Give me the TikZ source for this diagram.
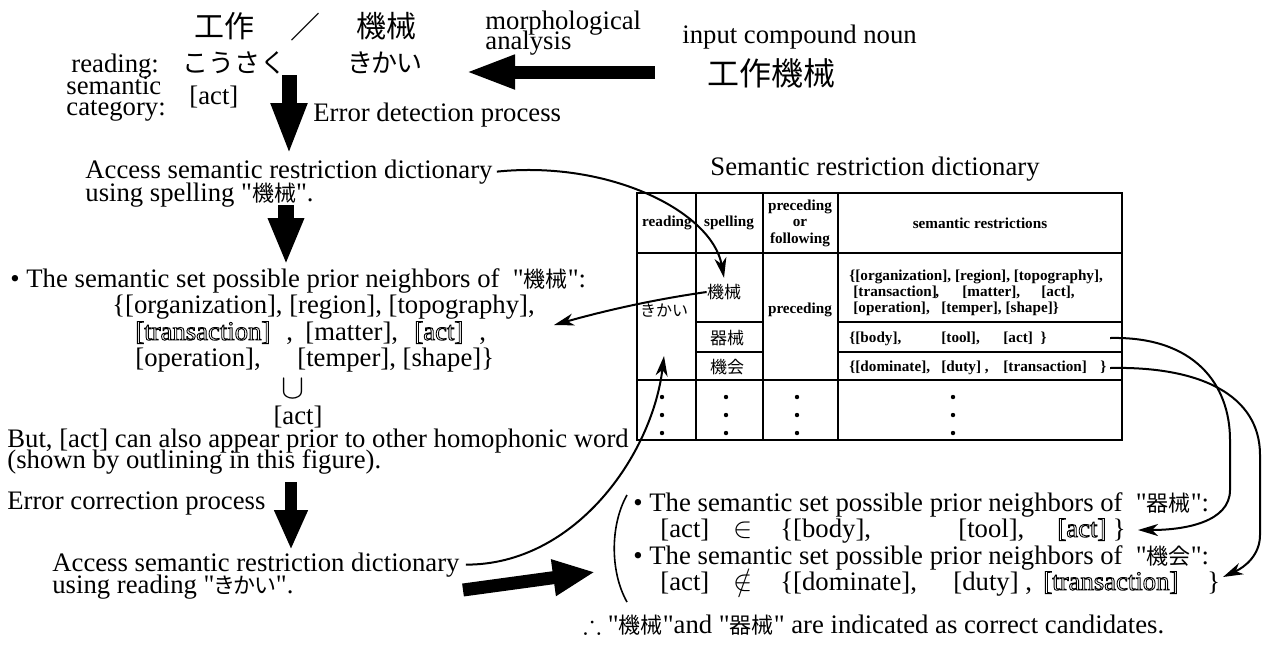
\documentclass[tikz,border=0pt]{standalone}
\usepackage{amssymb}
\usepackage{fontspec}
\setmainfont{Liberation Serif}[Ligatures=TeXOff]
\newfontfamily\jpfont{Noto Sans CJK JP}[RawFeature=+palt]
\newfontfamily\jpwide{Noto Sans CJK JP}
\newcommand\jpin[1]{{\jpfont\fontsize{11}{11}\selectfont #1}}
\newcommand\outl[1]{\special{pdf:literal direct 1 Tr 0.45 w}#1\special{pdf:literal direct 0 Tr}}
\usetikzlibrary{positioning, arrows.meta}

\tikzset{
  txt/.style={inner sep=0pt, anchor=base west, font=\fontsize{13.35}{14}\selectfont},
  tab/.style={inner sep=0pt, anchor=base west, font=\fontsize{7.6}{8.2}\selectfont\bfseries},
  head/.style={inner sep=0pt, align=center, font=\fontsize{7.6}{8.2}\selectfont\bfseries},
  kanji/.style={inner sep=0pt, font=\jpwide\fontsize{#1}{#1}\selectfont},
  kana/.style={inner sep=0pt, font=\jpfont\fontsize{#1}{#1}\selectfont},
  bigarrow/.style n args={3}{line width=#1, -{Triangle[length=#2,width=#3]}},
  lookup/.style={line width=1pt, -{Stealth[length=10pt,width=6pt,inset=3pt]}},
  grid/.style={line width=0.9pt},
}

\begin{document}
\begin{tikzpicture}[x=0.5pt, y=-0.5pt]
\fill[white] (0,0) rectangle (1273,645);
% morphological analysis
\node[kanji=15pt] (wA) at (224,26) {工作};
\node[kanji=15pt] (slash) at (305,27) {／};
\node[kanji=15pt] (wB) at (386,26) {機械};
\node[txt] (morph1) at (485,29) {morphological};
\node[txt] (morph2) at (485,49) {analysis};
\node[txt] (inp) at (682,43) {input compound noun};
\node[kanji=16pt] (cnoun) at (771,73) {工作機械};
\node[txt] (rdlab) at (71,72) {reading:};
\node[kanji=13pt] (rdA) at (234,63) {こうさく};
\node[kana=13pt] (rdB) at (385,63) {きかい};
\node[txt] (sem1) at (66,94) {semantic};
\node[txt] (sem2) at (66,115) {category:};
\node[txt] (cat) at (189,104) {[act]};
\node[txt] (detect) at (313,121) {Error detection process};
\coordinate (h0) at (655,72);
\coordinate (h1) at (465,72);
\draw[bigarrow={6.5pt}{25pt}{15.5pt}] (h0) -- (h1);
\coordinate (d1s) at (289,75);
\coordinate (d1e) at (289,155);
\draw[bigarrow={7.5pt}{26pt}{16.5pt}] (d1s) -- (d1e);

% error detection
\node[txt] (acc1) at (85,178) {Access semantic restriction dictionary};
\node[txt] (acc1b) at (85,201) {using spelling "\jpin{機械}".};
\coordinate (d2s) at (286,205);
\coordinate (d2e) at (286,265);
\draw[bigarrow={8pt}{23.5pt}{16.5pt}] (d2s) -- (d2e);
\node[txt] (set0) at (10,287) {\textbullet\ The semantic set possible prior neighbors of~~"\jpin{機械}":};
\node[txt] (set1) at (112,313) {\{[organization], [region], [topography],};
\node[txt] (set2a) at (135,340) {\outl{[transaction]}};
\node[txt] (set2b) at (286,340) {,};
\node[txt] (set2c) at (305,340) {[matter],};
\node[txt] (set2d) at (414,340) {\outl{[act]}};
\node[txt] (set2e) at (479,340) {,};
\node[txt] (set3a) at (135,366) {[operation],};
\node[txt] (set3b) at (297,366) {[temper], [shape]\}};
\node[inner sep=0pt, font=\fontsize{18}{18}\selectfont] (cup) at (293,389) {$\cup$};
\node[txt, anchor=base] (act) at (298,424) {[act]};
\node[txt] (but1) at (7,447) {But, [act] can also appear prior to other homophonic word};
\node[txt] (but2) at (7,468) {(shown by outlining in this figure).};

% error correction
\node[txt] (correct) at (7,509) {Error correction process};
\coordinate (d3s) at (291,482);
\coordinate (d3e) at (291,550);
\draw[bigarrow={6pt}{20pt}{15.5pt}] (d3s) -- (d3e);
\node[txt] (acc2) at (52,571) {Access semantic restriction dictionary};
\node[txt] (acc2b) at (52,593) {using reading "\jpin{きかい}".};
\coordinate (s0) at (463,590);
\coordinate (s1) at (595,572);
\draw[bigarrow={6.5pt}{21pt}{17pt}] (s0) -- (s1);

% dictionary table
\node[txt] (dictT) at (710,175) {Semantic restriction dictionary};
\draw[grid] (637,193) rectangle (1122,440);
\draw[line width=1.4pt] (637,253) -- (1122,253);
\draw[line width=1.4pt] (637,380) -- (1122,380);
\foreach \x in {696,763,838}
  \draw[grid] (\x,193) -- (\x,440);
\foreach \y in {322,352}
  \draw[grid] (696,\y) -- (763,\y) (838,\y) -- (1122,\y);
\node[head] (hRead) at (667,223) {reading};
\node[head] (hSpell) at (729,223) {spelling};
\node[head] (hPrec) at (800,223) {preceding\\or\\following};
\node[head] (hSem) at (980,223) {semantic restrictions};
\node[kanji=8pt] (cRead) at (664,310) {きかい};
\node[kanji=8.5pt] (cS1) at (724,292) {機械};
\node[kanji=8.5pt] (cS2) at (727,338) {器械};
\node[kanji=8.5pt] (cS3) at (727,367) {機会};
\node[head] (cPrec) at (800,310) {preceding};
\node[tab] (r1a) at (849,280) {\{[organization], [region], [topography],};
\node[tab] (r1b) at (853,296) {[transaction]};
\node[tab] (r1c) at (935,296) {,};
\node[tab] (r1d) at (962,296) {[matter],};
\node[tab] (r1e) at (1041,296) {[act],};
\node[tab] (r1f) at (853,312) {[operation],};
\node[tab] (r1g) at (941,312) {[temper], [shape]\}};
\node[tab] (r2a) at (849,342) {\{[body],};
\node[tab] (r2b) at (941,342) {[tool],};
\node[tab] (r2c) at (1003,342) {[act]~~\}};
\node[tab] (r3a) at (849,371) {\{[dominate],};
\node[tab] (r3b) at (941,371) {[duty]~,};
\node[tab] (r3c) at (1003,371) {[transaction]};
\node[tab] (r3d) at (1100,371) {\}};
\foreach \x in {662,726,797,953}
  \foreach \y in {397,415,433}
    \fill (\x,\y) circle (1.1pt);

% candidates
\draw[line width=0.8pt] (627,495) .. controls (610,525) and (610,572) .. (627,602);
\node[txt] (bA0) at (633,511) {\textbullet\ The semantic set possible prior neighbors of~~"\jpin{器械}":};
\node[txt] (bA1) at (660,537) {[act]};
\node[txt] (bA2) at (733,537) {$\in$};
\node[txt] (bA3) at (780,537) {\{[body],};
\node[txt] (bA4) at (958,537) {[tool],};
\node[txt] (bA5) at (1057,537) {\outl{[act]} \}};
\node[txt] (bB0) at (633,564) {\textbullet\ The semantic set possible prior neighbors of~~"\jpin{機会}":};
\node[txt] (bB1) at (660,590) {[act]};
\node[txt] (bB2) at (733,590) {$\notin$};
\node[txt] (bB3) at (780,590) {\{[dominate],};
\node[txt] (bB4) at (953,590) {[duty]~,};
\node[txt] (bB5) at (1043,590) {\outl{[transaction]}};
\node[txt] (bB6) at (1207,590) {\}};
\node[txt] (concl) at (583,633) {$\therefore$ "\jpin{機械}"and "\jpin{器械}" are indicated as correct candidates.};

% lookups
\coordinate (kaiTip) at (664,356);
\coordinate (setTip) at (554,325);
\coordinate (r2end) at (1110,338);
\coordinate (r3end) at (1110,368);
\coordinate (bATip) at (1138,530);
\coordinate (bBTip) at (1223,577);
\draw[lookup] ([xshift=2pt]acc1.east) .. controls (610,160) and (712,212) .. ([yshift=3pt]cS1.north);
\draw[lookup] (cS1.west) .. controls (650,300) and (600,312) .. (setTip);
\draw[lookup] ([xshift=3pt]acc2.east) .. controls (575,565) and (652,455) .. (kaiTip);
\draw[lookup] (r2end) .. controls (1195,336) and (1230,385) .. (1230,440) -- (1230,490)
  .. controls (1230,522) and (1185,530) .. (bATip);
\draw[lookup] (r3end) .. controls (1200,366) and (1260,395) .. (1260,455) -- (1260,535)
  .. controls (1260,555) and (1245,567) .. (bBTip);
\end{tikzpicture}
\end{document}
